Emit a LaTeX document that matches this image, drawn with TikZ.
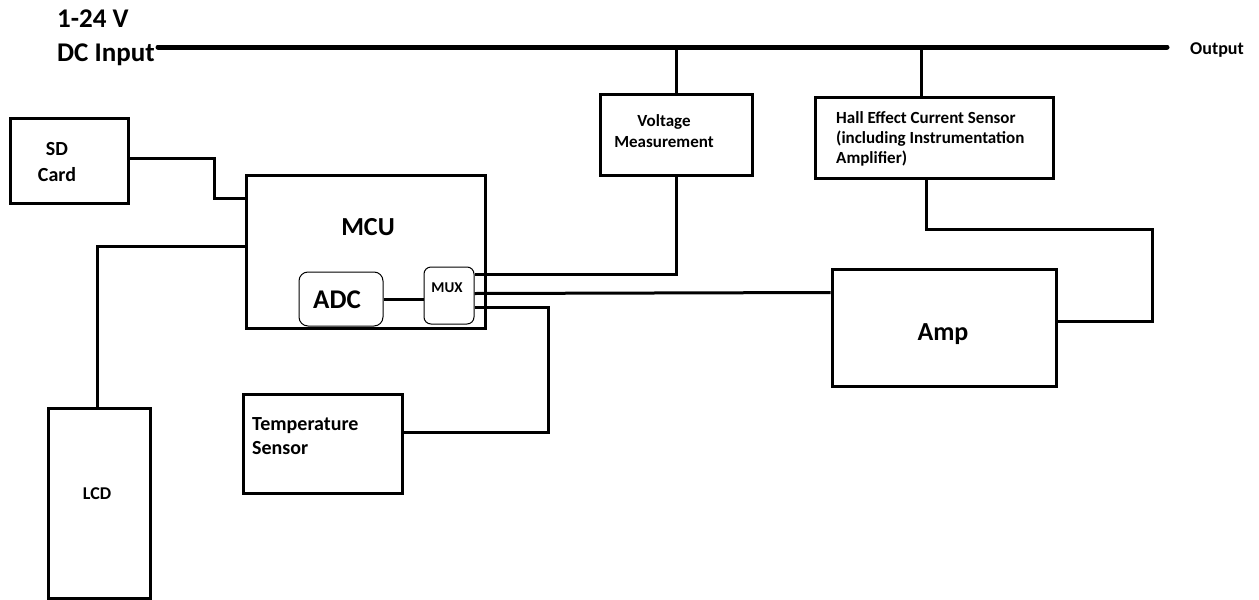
\documentclass[tikz,border=0pt]{standalone}
\usepackage{fontspec}
\setmainfont{Carlito}
\usetikzlibrary{calc}

\newcommand{\fs}[1]{\fontsize{#1pt}{\dimexpr #1pt*6/5\relax}\selectfont\bfseries}

\tikzset{
  box/.style={draw, line width=3pt, inner sep=0pt, fill=white},
  subbox/.style={draw, line width=1pt, rounded corners=9pt, inner sep=0pt, fill=white},
  wire/.style={line width=3pt},
  bus/.style={line width=5pt, line cap=round},
  lbl/.style={inner sep=0pt, align=left},
}

\begin{document}
\begin{tikzpicture}[x=1pt, y=-1pt]
  \useasboundingbox (0,0) rectangle (1259,600);

  % supply rail labels
  \node[lbl, anchor=base west, font=\fs{27}] (vin) at (57,27) {1-24 V};
  \node[lbl, anchor=base west, font=\fs{27}] (dcin) at (57,61) {DC Input};
  \node[lbl, anchor=west, font=\fs{18}] (out) at (1190,50) {Output};
  \coordinate (busstart) at (158,47);
  \coordinate (busend) at (1167,47);

  % blocks
  \node[box, minimum width=118pt, minimum height=85pt] (sd) at (69,160.5) {};
  \node[lbl, align=center, font=\fs{20}] (sdtxt) at (57,162) {SD\\[2pt]Card};

  \node[box, minimum width=239pt, minimum height=153pt] (mcu) at (365.5,251.5) {};
  \node[lbl, font=\fs{26}] (mcutxt) at (368,227) {MCU};

  \node[subbox, minimum width=84pt, minimum height=54pt] (adc) at (341,299) {};
  \node[lbl, font=\fs{27}] (adctxt) at (337,300) {ADC};
  \node[subbox, rounded corners=7pt, minimum width=50pt, minimum height=57pt] (mux) at (449,295.5) {};
  \node[lbl, font=\fs{15}] (muxtxt) at (447,288) {MUX};

  \node[box, minimum width=152pt, minimum height=81pt] (volt) at (676,134.5) {};
  \node[lbl, align=center, font=\fs{17}] (volttxt) at (664,131) {Voltage\\Measurement};

  \node[box, minimum width=238pt, minimum height=81pt] (hall) at (934,137.5) {};
  \node[lbl, anchor=north west, font=\fs{17}] (halltxt) at (836,111)
    {Hall Effect Current Sensor\\(including Instrumentation\\Amplifier)};

  \node[box, minimum width=224pt, minimum height=117pt] (amp) at (944,327.5) {};
  \node[lbl, font=\fs{26}] (amptxt) at (943,334) {Amp};

  \node[box, minimum width=159pt, minimum height=99pt] (temp) at (322.5,443.5) {};
  \node[lbl, anchor=north west, font=\fs{20}] (temptxt) at (252,417) {Temperature\\Sensor};

  \node[box, minimum width=102pt, minimum height=190pt] (lcd) at (99,503) {};
  \node[lbl, font=\fs{18}] (lcdtxt) at (97,494) {LCD};

  % power rail and taps
  \draw[bus] (busstart) -- (busend);
  \draw[wire] (volt.north) -- (volt.north |- busstart);
  \draw[wire] ($(hall.north)+(-13,0)$) -- ($(hall.north |- busstart)+(-13,0)$);

  % signal wiring
  \draw[wire] ($(sd.east)+(0,-2.5)$) -- ++(85,0) |- ($(mcu.north west)+(0,25)$);
  \draw[wire] ($(mcu.north west)+(0,73)$) -| ($(lcd.north)+(-2,0)$);
  \draw[wire] (adc.east) -- (adc.east -| mux.west);
  \draw[wire] ($(mux.north east)+(0,8)$) -| (volt.south);
  \draw[wire] ($(mux.north east)+(0,27)$) -- ($(amp.north west)+(0,25)$);
  \draw[wire] ($(mux.north east)+(0,41)$) -- ++(74,0) |- ($(temp.north east)+(0,40)$);
  \coordinate (ret) at (1152,229);
  \draw[wire] ($(hall.south)+(-8,0)$) |- (ret) |- ($(amp.north east)+(0,54)$);
\end{tikzpicture}
\end{document}
